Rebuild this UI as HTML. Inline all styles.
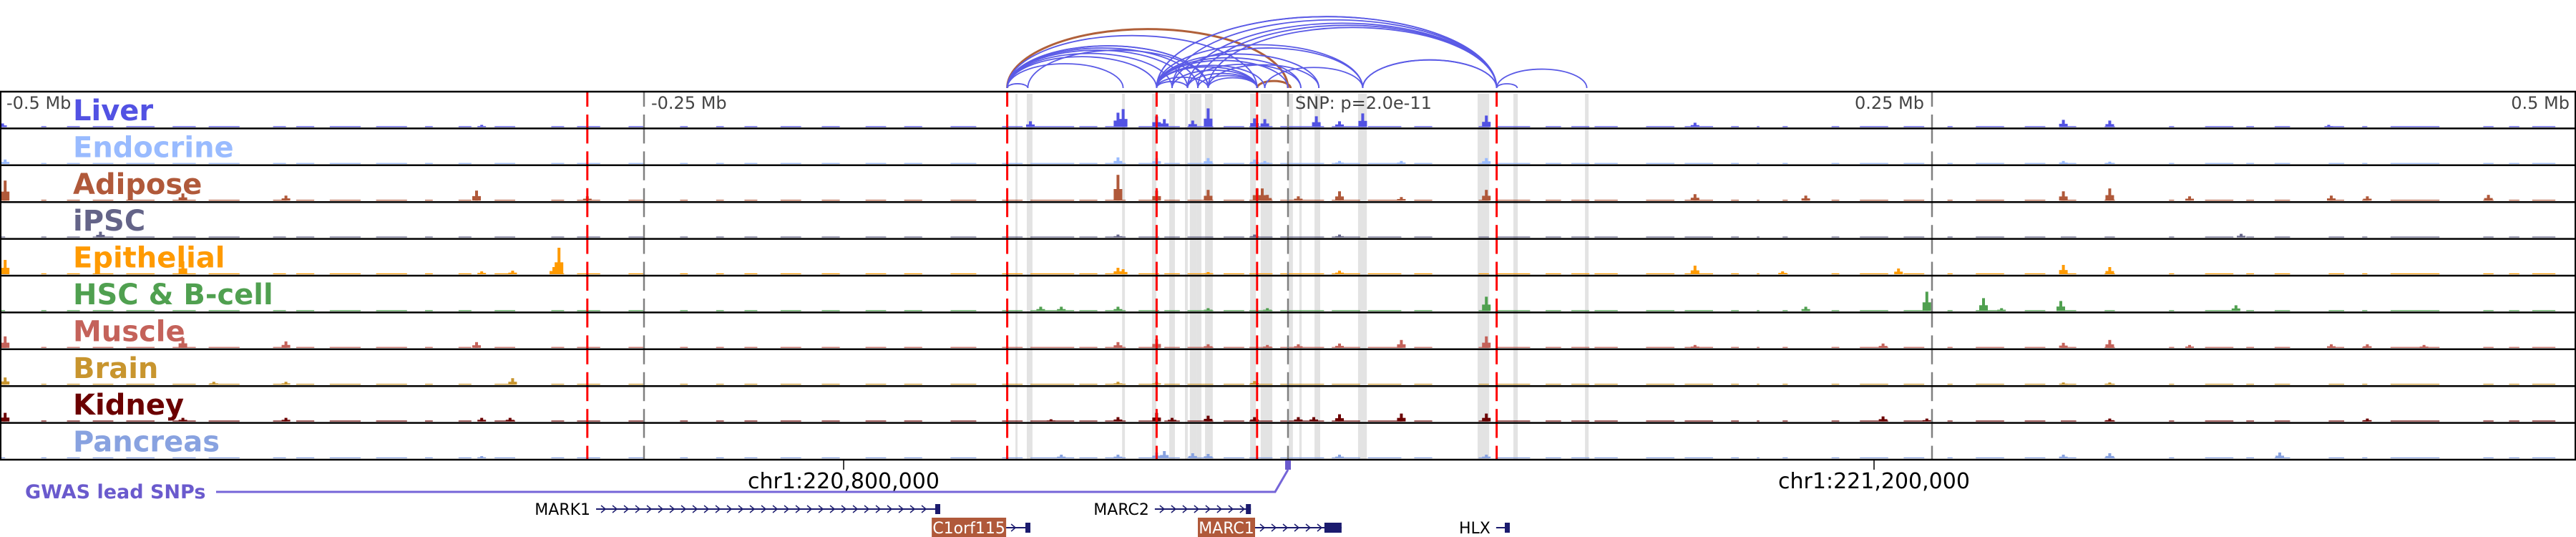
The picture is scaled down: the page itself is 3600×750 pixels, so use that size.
<!DOCTYPE html>
<html><head><meta charset="utf-8"><title>Regional chromatin tracks</title>
<style>
html,body{margin:0;padding:0;background:#fff;}
svg{display:block;font-family:"DejaVu Sans","Liberation Sans",sans-serif;}
</style></head>
<body>
<svg id="chart" width="3600" height="750" viewBox="0 0 3600 750" xmlns="http://www.w3.org/2000/svg"></svg>
<script>
// ---- data (genomic positions in kb relative to lead SNP at chr1:220,972,500) ----
const trackNames = ["Liver","Endocrine","Adipose","iPSC","Epithelial","HSC & B-cell","Muscle","Brain","Kidney","Pancreas"];
const trackColors = ["#5252e3","#99bbff","#b0593a","#646488","#ff9a00","#50a050","#c4625a","#c8952e","#6b0000","#88a2e0"];
const baseSpans = [[-500,-498],[-484,-482],[-474,-469],[-464,-456],[-451,-440],[-433,-424],[-419,-407],[-394,-389],[-385,-378],[-372,-360],[-354,-342],[-335,-332],[-322,-317],[-308,-300],[-286,-281],[-276,-267],[-256,-250],[-236,-233],[-222,-219],[-211,-206],[-197,-189],[-181,-174],[-164,-156],[-149,-142],[-131,-121],[-111,-103],[-100,-83],[-81,-74],[-71,-63],[-58,-50],[-48,-42],[-39,-29],[-25,-17],[-15,-6],[-3,14],[17,28],[31,44],[49,56],[74,78],[81,94],[100,106],[110,117],[119,128],[139,150],[154,165],[172,175],[182,183],[192,194],[211,214],[222,233],[239,247],[256,258],[267,278],[286,294],[300,306],[317,321],[342,344],[356,367],[372,375],[383,389],[404,410],[417,419],[428,447],[464,468],[474,478],[483,492]];
const peaksLiver = [[-499,5],[-313,3],[-100,8],[-66,20],[-64,25],[-51,15],[-48,11],[-37,9],[-31,26],[-13,12],[-9,11],[11,15],[20,8],[29,19],[77,16],[158,6],[301,10],[319,9],[404,3]];
const peaksEndocrine = [[-498,6],[-66,9],[-51,8],[-31,8],[-13,6],[-9,4],[20,4],[44,4],[77,8],[301,4],[319,3]];
const peaksAdipose = [[-498,28],[-429,10],[-389,7],[-315,14],[-272,6],[-66,36],[-51,14],[-31,15],[-12,17],[-10,17],[-8,8],[4,6],[20,13],[44,5],[77,15],[158,9],[201,7],[301,13],[319,17],[350,6],[405,7],[419,6],[466,8]];
const peaksIPSC = [[-461,8],[-66,4],[-13,4],[20,4],[370,5]];
const peaksEpithelial = [[-498,20],[-429,18],[-313,4],[-301,5],[-285,10],[-283,37],[-66,9],[-64,7],[-31,3],[20,5],[158,12],[192,4],[237,8],[301,13],[319,10]];
const peaksHSC = [[-96,6],[-88,6],[-66,6],[-31,4],[-8,4],[77,20],[201,6],[248,27],[270,18],[277,4],[300,14],[368,8]];
const peaksMuscle = [[-498,16],[-429,14],[-389,9],[-315,8],[-66,8],[-51,12],[-31,5],[-8,4],[4,5],[20,6],[44,11],[77,16],[158,4],[231,6],[301,7],[319,11],[350,4],[405,5],[419,5],[441,4]];
const peaksBrain = [[-498,10],[-417,4],[-389,4],[-301,9],[-66,4],[-51,4],[-13,5],[301,3],[319,3]];
const peaksKidney = [[-498,12],[-429,5],[-389,5],[-313,5],[-302,5],[-92,3],[-66,6],[-51,12],[-45,5],[-31,8],[-13,6],[4,6],[10,6],[20,10],[44,11],[77,11],[231,7],[248,4],[319,4],[419,4]];
const peaksPancreas = [[-313,3],[-88,5],[-66,5],[-51,8],[-48,10],[-37,7],[-31,6],[20,5],[77,5],[301,5],[319,7],[385,8]];
const highlightBands = [[-105.8,-105],[-101.4,-99.2],[-64.4,-63.3],[-52.8,-51.1],[-46.1,-43.9],[-40,-38.9],[-38.1,-35.3],[-35.3,-33.6],[-32.2,-29.2],[-14.7,-12.5],[-10.6,-6.1],[0.3,1.9],[4.4,5.3],[10.3,12.5],[27.2,30.6],[73.6,78.1],[87.5,89.2],[115.3,116.7]];
const anchorLines = [-272,-109,-51,-12,81];
const axisTicks = [-250,0,250];
const axisLabels = ["-0.5 Mb","-0.25 Mb","0.25 Mb","0.5 Mb"];
const arcStarts = [-109,-12,-109,-109,-109,-109,-109,-109,-109,-109,-109,-101,-51,-51,-51,-51,-51,-51,-51,-51,-51,-51,-45,-45,-39,-39,-35,-31,-31,-45,-31,-39,-9,29,29,-35,81,81];
const arcEnds   = [0,1,-101,-64,-51,-45,-39,-35,-31,-31,-12,-31,-39,-31,-12,-9,0,5,12,29,81,81,81,-12,81,-12,-12,-12,81,29,12,5,29,81,81,81,89,116];
const arcColors = ["brown","brown"];
const genes = [["MARK1",-268.6,-135,1],["MARC2",-51.7,-14.4,1],["C1orf115",-138.3,-100,2],["MARC1",-35,20.8,2],["HLX",80.8,86.1,2]];
const coordTicks = [220800000,221200000];
const snpPos = 220972500;

// ---- layout ----
const svg = document.getElementById('chart');
const NS = 'http://www.w3.org/2000/svg';
const X0 = 1800, PXKB = 3.6;
const x = kb => X0 + kb * PXKB;
const TOP = 128, TH = 51.4, NT = 10, BOT = TOP + TH * NT;
const yv = v => v * 1.0;
function mk(tag, attrs, parent){ const e=document.createElementNS(NS,tag); for(const k in attrs) e.setAttribute(k,attrs[k]); (parent||svg).appendChild(e); return e; }

// highlight bands
const gBands = mk('g',{});


highlightBands.forEach(b=>{
  const r = mk('rect',{x:x(b[0]),y:TOP+3,width:Math.max(2,(b[1]-b[0])*PXKB),height:BOT-TOP-3,fill:'#e3e3e3'},gBands);
  
  
});

// arcs
const gArcs = mk('g',{fill:'none'});


const ARC_BASE = 123;
arcStarts.forEach((s,i)=>{
  const e = arcEnds[i];
  const x1=x(s), x2=x(e), rx=(x2-x1)/2, ry=(x2-x1)*0.21;
  const brown = arcColors[i]==='brown';
  const p = mk('path',{d:`M${x1},${ARC_BASE} A${rx},${ry} 0 0 1 ${x2},${ARC_BASE}`,stroke:brown?'#b0603a':'#5a5ae6','stroke-width':brown?3:1.8},gArcs);
  
  
});

// tracks
const allPeaks = [peaksLiver,peaksEndocrine,peaksAdipose,peaksIPSC,peaksEpithelial,peaksHSC,peaksMuscle,peaksBrain,peaksKidney,peaksPancreas];
trackNames.forEach((name,i)=>{
  const top = TOP + i*TH, base = top + TH - 2;
  const g = mk('g',{fill:trackColors[i]});
  
  
  baseSpans.forEach(s=>{
    const r = mk('rect',{x:x(s[0]),y:base-yv(1.2),width:Math.max(2,(s[1]-s[0])*PXKB),height:yv(1.2)},g);
    
    
  });
  allPeaks[i].forEach(p=>{
    const cx = x(p[0]);
    const r = mk('rect',{x:cx-2,y:base-yv(p[1]),width:4,height:yv(p[1])},g);
    
    
    const r2 = mk('rect',{x:cx-6,y:base-yv(p[1]*0.45),width:12,height:yv(p[1]*0.45)},g);
    
    
  });
});

// dashed lines
function dashed(kb,color,w,name){
  const g = mk('g',{stroke:color,'stroke-width':w});
  
  
  for(let i=0;i<NT;i++){
    const t = TOP + i*TH;
    mk('line',{x1:x(kb),x2:x(kb),y1:t+1,y2:t+21},g);
    mk('line',{x1:x(kb),x2:x(kb),y1:t+32,y2:t+TH+1},g);
  }
}
axisTicks.forEach(k=>dashed(k,'#808080',2.5,k===0?'snp-line':'axis-gridline'));
anchorLines.forEach(k=>dashed(k,'#ff0000',3,'anchor-line'));

// track borders
for(let i=0;i<=NT;i++){
  const l = mk('line',{x1:0,x2:3600,y1:TOP+i*TH,y2:TOP+i*TH,stroke:'#000','stroke-width':2.5});
  
  
}
mk('line',{x1:1,x2:1,y1:TOP,y2:BOT,stroke:'#000','stroke-width':2});
mk('line',{x1:3599,x2:3599,y1:TOP,y2:BOT,stroke:'#000','stroke-width':2});

// track labels
trackNames.forEach((name,i)=>{
  const t = mk('text',{x:102,y:TOP+i*TH+40,fill:trackColors[i],'font-size':40,'font-weight':'bold'});
  t.textContent = name;
  
  
});

// axis labels
const axPos = [[9,'start'],[910,'start'],[2689,'end'],[3591,'end']];
axisLabels.forEach((lab,i)=>{
  const t = mk('text',{x:axPos[i][0],y:152,'text-anchor':axPos[i][1],fill:'#444','font-size':24});
  t.textContent = lab;
  
  
});
const snpT = mk('text',{x:1810,y:152,fill:'#444','font-size':24});
snpT.textContent = 'SNP: p=2.0e-11';



// genomic coordinate ticks
const gx = pos => X0 + (pos - snpPos)/1000*PXKB;
coordTicks.forEach(p=>{
  const l = mk('line',{x1:gx(p),x2:gx(p),y1:643,y2:656,stroke:'#000','stroke-width':1.5});
  
  
  const t = mk('text',{x:gx(p),y:682,'text-anchor':'middle','font-size':30,fill:'#000'});
  t.textContent = 'chr1:' + p.toLocaleString('en-US');
  
  
});

// GWAS lead SNP row
const gw = mk('text',{x:35,y:696,fill:'#6a5acd','font-size':27,'font-weight':'bold'});
gw.textContent = 'GWAS lead SNPs';


const gl = mk('polyline',{points:`302,687 ${x(-5)},687 ${x(0)},656`,fill:'none',stroke:'#7565d8','stroke-width':3});


const sm = mk('rect',{x:x(0)-4,y:643,width:8,height:13,fill:'#6a5acd'});



// genes
genes.forEach(gn=>{
  const [name,s,e,row] = gn;
  const cy = row===1 ? 711 : 737;
  const g = mk('g',{});
  
  
  const x1=x(s), x2=x(e);
  const boxed = (name==='C1orf115' || name==='MARC1');
  let lineStart = x1;
  if(boxed){
    const bw = name==='C1orf115' ? 104 : 80;
    mk('rect',{x:x1,y:cy-14,width:bw,height:28,fill:'#b0593a'},g);
    const t = mk('text',{x:x1+bw/2,y:cy+8,'text-anchor':'middle',fill:'#fff','font-size':22},g);
    t.textContent = name;
    lineStart = x1+bw;
  } else {
    const t = mk('text',{x:x1-8,y:cy+8,'text-anchor':'end',fill:'#000','font-size':22},g);
    t.textContent = name;
  }
  mk('line',{x1:lineStart,x2:x2,y1:cy,y2:cy,stroke:'#1b1b6e','stroke-width':2},g);
  for(let cx=lineStart+10; cx<x2-10; cx+=16){
    mk('polyline',{points:`${cx-3},${cy-5} ${cx+3},${cy} ${cx-3},${cy+5}`,fill:'none',stroke:'#1b1b6e','stroke-width':1.5},g);
  }
  mk('rect',{x:name==='MARC1'?x2-24:x2-7,y:cy-7,width:name==='MARC1'?24:7,height:14,fill:'#1b1b6e'},g);
});
</script>
</body></html>
